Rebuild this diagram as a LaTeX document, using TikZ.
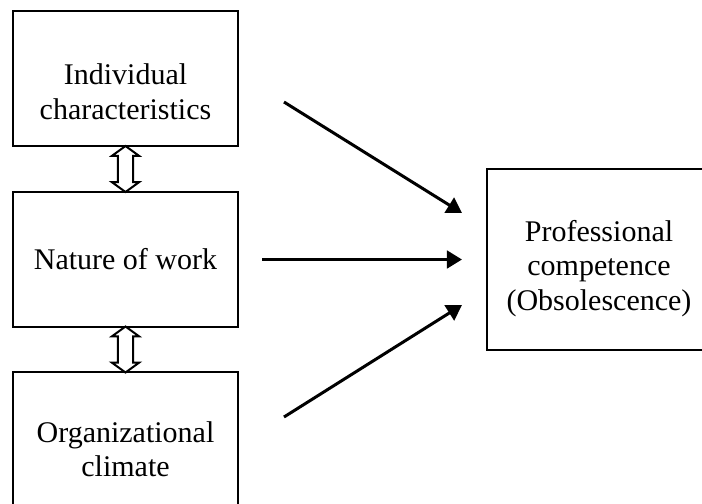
\documentclass[tikz,border=0pt]{standalone}
\usepackage{fontspec}
\setmainfont{Liberation Serif}
\usetikzlibrary{arrows.meta,positioning,calc,shapes.arrows}

\newcommand{\topgap}[1]{\rule{0pt}{#1}}

\begin{document}
\begin{tikzpicture}[
    x=0.4pt, y=-0.4pt,
    box/.style={draw, line width=0.8pt, minimum width=90pt, minimum height=54pt, align=center, font=\fontsize{12}{13.8}\selectfont},
    outbox/.style={box, minimum width=89.6pt, minimum height=72.4pt},
    arr/.style={-{Triangle[length=6pt, width=7pt]}, line width=1.2pt},
    dblarr/.style={double arrow, draw, line width=0.8pt, rotate=90, inner sep=2.6pt, minimum height=18.4pt, double arrow head extend=2.4pt, double arrow tip angle=108}
]
\useasboundingbox (0,0) rectangle (702,503);

\node[box] (indiv) at (125.5,78.5) {\topgap{19pt}Individual\\characteristics};
\node[box] (work) at (125.5,259.5) {Nature of work};
\node[box] (climate) at (125.5,439.5) {\topgap{16pt}Organizational\\climate};
\node[outbox] (compet) at (599,259.5) {\topgap{15.5pt}Professional\\competence\\(Obsolescence)};

% two-way links between the factors
\node[dblarr] (link1) at ($(indiv.south)!0.5!(work.north)$) {};
\node[dblarr] (link2) at ($(work.south)!0.5!(climate.north)$) {};

% free ends of the arrows
\coordinate (indiv-out) at ($(indiv.east)+(45,23.5)$);
\coordinate (work-out) at ($(work.east)+(23,0)$);
\coordinate (climate-out) at ($(climate.east)+(45,-22.5)$);
\coordinate (compet-in1) at ($(compet.west)+(-24,-46.5)$);
\coordinate (compet-in2) at ($(compet.west)+(-24,0)$);
\coordinate (compet-in3) at ($(compet.west)+(-24,45.5)$);

\foreach \a/\b in {indiv-out/compet-in1, work-out/compet-in2, climate-out/compet-in3}
    \draw[arr] (\a) -- (\b);
\end{tikzpicture}
\end{document}
